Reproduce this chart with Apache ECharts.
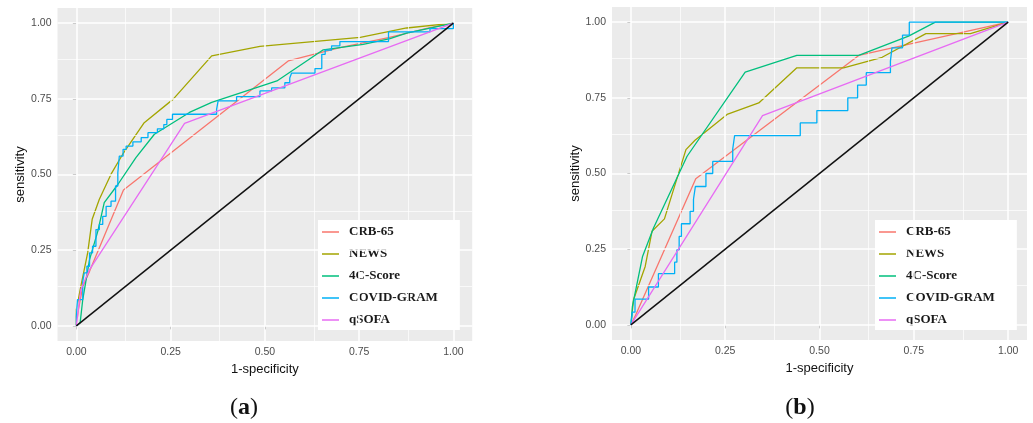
<!DOCTYPE html>
<html>
<head>
<meta charset="utf-8">
<script src="https://cdn.jsdelivr.net/npm/echarts@6/dist/echarts.min.js"></script>
<style>html,body{margin:0;padding:0;background:#fff;}#c{width:1033px;height:423px;}</style>
</head>
<body>
<div id="c"></div>
<script>
// ---- data ----
const seriesNames = ['CRB-65', 'NEWS', '4C-Score', 'COVID-GRAM', 'qSOFA'];
const tickValues = [0, 0.25, 0.5, 0.75, 1];
const minorValues = [0.125, 0.375, 0.625, 0.875];
const panelCaptions = ['a', 'b'];
const axisTitleX = '1-specificity';
const axisTitleY = 'sensitivity';

// panel (a): [1-specificity, sensitivity]
const aCRB65 = [[0,0],[0.005,0.05],[0.017,0.13],[0.035,0.18],[0.125,0.449],[0.562,0.875],[0.699,0.919],[0.828,0.952],[0.938,0.985],[1,1]];
const aNEWS = [[0,0],[0,0.054],[0.012,0.131],[0.03,0.241],[0.042,0.352],[0.061,0.418],[0.092,0.501],[0.123,0.567],[0.18,0.671],[0.257,0.749],[0.359,0.892],[0.487,0.923],[0.753,0.953],[0.876,0.984],[1,1]];
const a4C = [[0,0],[0.01,0.01],[0.017,0.087],[0.035,0.219],[0.057,0.313],[0.074,0.407],[0.11,0.467],[0.158,0.556],[0.207,0.633],[0.3,0.705],[0.359,0.738],[0.532,0.809],[0.655,0.912],[0.761,0.93],[0.832,0.949],[0.876,0.967],[1,1]];
const aGRAM = [[0,0],[0,0.03],[0.003,0.03],[0.003,0.087],[0.017,0.087],[0.017,0.148],[0.021,0.148],[0.021,0.175],[0.028,0.175],[0.028,0.197],[0.035,0.197],[0.035,0.241],[0.043,0.241],[0.043,0.263],[0.052,0.263],[0.052,0.318],[0.061,0.318],[0.061,0.335],[0.07,0.335],[0.07,0.362],[0.079,0.362],[0.079,0.395],[0.092,0.395],[0.092,0.412],[0.104,0.412],[0.104,0.462],[0.11,0.462],[0.11,0.506],[0.114,0.506],[0.114,0.561],[0.124,0.561],[0.124,0.583],[0.132,0.583],[0.132,0.594],[0.15,0.594],[0.15,0.608],[0.172,0.608],[0.172,0.622],[0.19,0.622],[0.19,0.638],[0.215,0.638],[0.215,0.651],[0.232,0.651],[0.232,0.665],[0.24,0.665],[0.24,0.682],[0.255,0.682],[0.255,0.699],[0.372,0.699],[0.372,0.715],[0.376,0.715],[0.376,0.743],[0.425,0.743],[0.425,0.757],[0.487,0.757],[0.487,0.776],[0.518,0.776],[0.518,0.786],[0.553,0.786],[0.553,0.803],[0.566,0.803],[0.566,0.819],[0.571,0.819],[0.571,0.835],[0.633,0.835],[0.633,0.85],[0.651,0.85],[0.651,0.897],[0.66,0.897],[0.66,0.911],[0.677,0.911],[0.677,0.925],[0.699,0.925],[0.699,0.939],[0.828,0.939],[0.828,0.971],[0.938,0.971],[0.938,0.982],[1,0.982],[1,1]];
const aQSOFA = [[0,0],[0.004,0.043],[0.012,0.12],[0.035,0.186],[0.287,0.669],[1,1]];

// panel (b)
const bCRB65 = [[0,0],[0.011,0.028],[0.172,0.483],[0.604,0.89],[1,1]];
const bNEWS = [[0,0],[0.007,0.083],[0.038,0.193],[0.056,0.309],[0.089,0.35],[0.146,0.579],[0.17,0.61],[0.255,0.695],[0.339,0.733],[0.44,0.849],[0.564,0.849],[0.666,0.884],[0.782,0.962],[0.9,0.962],[1,1]];
const b4C = [[0,0],[0.004,0.06],[0.031,0.226],[0.06,0.32],[0.149,0.557],[0.303,0.835],[0.44,0.89],[0.604,0.89],[0.736,0.954],[0.807,1],[1,1]];
const bGRAM = [[0,0],[0.004,0],[0.004,0.042],[0.011,0.042],[0.011,0.085],[0.047,0.085],[0.047,0.125],[0.073,0.125],[0.073,0.169],[0.116,0.169],[0.116,0.207],[0.122,0.207],[0.122,0.248],[0.128,0.248],[0.128,0.292],[0.134,0.292],[0.134,0.334],[0.157,0.334],[0.157,0.375],[0.166,0.375],[0.166,0.415],[0.171,0.415],[0.171,0.457],[0.199,0.457],[0.199,0.5],[0.217,0.5],[0.217,0.54],[0.27,0.54],[0.27,0.581],[0.275,0.581],[0.275,0.625],[0.449,0.625],[0.449,0.667],[0.493,0.667],[0.493,0.708],[0.575,0.708],[0.575,0.75],[0.601,0.75],[0.601,0.792],[0.624,0.792],[0.624,0.833],[0.688,0.833],[0.688,0.871],[0.692,0.871],[0.692,0.915],[0.72,0.915],[0.72,0.957],[0.738,0.957],[0.738,1],[1,1]];
const bQSOFA = [[0,0],[0.349,0.691],[1,1]];

const chanceLine = [[0,0],[1,1]];

// ---- build ----
const colors = ['#F8766D', '#A3A500', '#00BF7D', '#00B0F6', '#E76BF3'];
const panels = [[aCRB65, aNEWS, a4C, aGRAM, aQSOFA], [bCRB65, bNEWS, b4C, bGRAM, bQSOFA]];
const gridDefs = [
  {left: 57.5, top: 8, width: 414.7, height: 333},
  {left: 612, top: 7, width: 415, height: 333}
];
const legendPos = [{left: 318, top: 220}, {left: 875, top: 220}];
const captionPos = [[244, 408], [800, 408]];
const font = 'Liberation Sans, Arial, sans-serif';

const option = {
  animation: false,
  grid: gridDefs.map(g => Object.assign({show: true, backgroundColor: '#EBEBEB', borderWidth: 0, containLabel: false}, g)),
  xAxis: [], yAxis: [], series: [], legend: [], graphic: []
};

panels.forEach((pdata, pi) => {
  const axisCommon = {
    gridIndex: pi, type: 'value', min: -0.05, max: 1.05,
    axisLine: {show: false},
    splitLine: {show: false},
    axisTick: {show: true, customValues: tickValues, length: 3.5, lineStyle: {color: '#333', width: 1}},
    axisLabel: {customValues: tickValues, formatter: v => v.toFixed(2), color: '#4D4D4D', fontSize: 10.5, fontFamily: font, margin: 6},
    nameLocation: 'middle',
    nameTextStyle: {color: '#111', fontSize: 13, fontFamily: font}
  };
  option.xAxis.push(Object.assign({}, axisCommon, {name: axisTitleX, nameGap: 20}));
  option.yAxis.push(Object.assign({}, axisCommon, {name: axisTitleY, nameGap: 28}));

  // background grid lines
  const ml = [];
  minorValues.forEach(v => {
    ml.push({xAxis: v, lineStyle: {width: 0.7}});
    ml.push({yAxis: v, lineStyle: {width: 0.7}});
  });
  tickValues.forEach(v => {
    ml.push({xAxis: v, lineStyle: {width: 1.5}});
    ml.push({yAxis: v, lineStyle: {width: 1.5}});
  });
  option.series.push({
    type: 'line', xAxisIndex: pi, yAxisIndex: pi, data: [], silent: true, z: 1,
    markLine: {silent: true, symbol: 'none', label: {show: false}, animation: false,
      lineStyle: {color: '#FFFFFF', type: 'solid'}, data: ml}
  });

  pdata.forEach((d, si) => {
    option.series.push({
      name: seriesNames[si], type: 'line', xAxisIndex: pi, yAxisIndex: pi,
      data: d, showSymbol: false, symbol: 'none', z: 3 + si,
      lineStyle: {color: colors[si], width: 1.3},
      itemStyle: {color: colors[si]}
    });
  });
  option.series.push({
    type: 'line', xAxisIndex: pi, yAxisIndex: pi, data: chanceLine,
    showSymbol: false, symbol: 'none', z: 10, silent: true,
    lineStyle: {color: '#111', width: 1.5}
  });

  option.legend.push({
    orient: 'vertical', left: legendPos[pi].left, top: legendPos[pi].top,
    data: seriesNames, icon: 'rect', itemWidth: 17, itemHeight: 1.5, itemGap: 8,
    backgroundColor: '#FFFFFF', padding: [5, 22, 3, 4], selectedMode: false,
    textStyle: {fontFamily: 'Liberation Serif, Times New Roman, serif', fontWeight: 'bold', fontSize: 13,
      color: '#1a1a1a', lineHeight: 14, padding: [0, 0, 0, 5]}
  });

  option.graphic.push({
    type: 'text', x: captionPos[pi][0], y: captionPos[pi][1],
    style: {
      text: '{p|(}{b|' + panelCaptions[pi] + '}{p|)}',
      align: 'center', verticalAlign: 'middle',
      rich: {
        p: {fontFamily: 'Liberation Serif, serif', fontSize: 24, fill: '#111', fontWeight: 'normal'},
        b: {fontFamily: 'Liberation Serif, serif', fontSize: 24, fill: '#111', fontWeight: 'bold'}
      }
    }
  });
});

const chart = echarts.init(document.getElementById('c'), null, {renderer: 'canvas'});
chart.setOption(option);
</script>
</body>
</html>
